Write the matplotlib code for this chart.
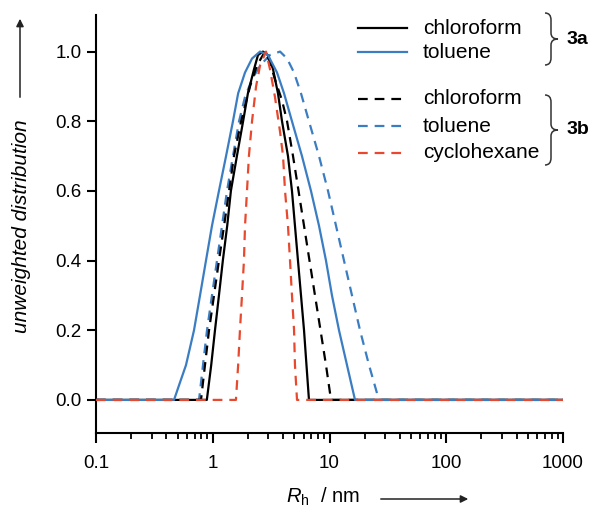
import matplotlib
matplotlib.use("Agg")
import matplotlib.pyplot as plt
from matplotlib.lines import Line2D
from matplotlib.patches import FancyArrowPatch, PathPatch
from matplotlib.path import Path
from matplotlib.ticker import FixedLocator, LogLocator, NullFormatter

plt.rcParams["font.family"] = ["Liberation Sans", "DejaVu Sans"]
plt.rcParams["mathtext.fontset"] = "custom"
plt.rcParams["mathtext.rm"] = "Liberation Sans"
plt.rcParams["mathtext.it"] = "Liberation Sans:italic"
plt.rcParams["lines.scale_dashes"] = False

# hydrodynamic radius R_h (nm) and unweighted distribution for each sample
rh_3a_chcl3 = [0.1, 0.89, 0.97, 1.045, 1.13, 1.22, 1.33, 1.43, 1.61, 1.82, 2.0, 2.26, 2.44, 2.69,
               2.97, 3.28, 3.62, 3.92, 4.41, 4.77, 5.06, 5.37, 5.70, 6.05, 6.35, 6.67, 1000]
dist_3a_chcl3 = [0, 0, 0.1, 0.2, 0.3, 0.4, 0.5, 0.6, 0.7, 0.8, 0.88, 0.95, 0.99, 1.0,
                 0.99, 0.95, 0.88, 0.8, 0.7, 0.6, 0.5, 0.4, 0.3, 0.2, 0.1, 0, 0]

rh_3a_tol = [0.1, 0.466, 0.524, 0.59, 0.691, 0.778, 0.875, 0.985, 1.13, 1.30, 1.49, 1.65, 1.89, 2.17, 2.54,
             2.97, 3.55, 4.08, 4.77, 5.81, 6.94, 8.13, 9.33, 10.5, 12.06, 14.12, 16.54, 1000]
dist_3a_tol = [0, 0, 0.05, 0.1, 0.2, 0.3, 0.4, 0.5, 0.6, 0.7, 0.8, 0.88, 0.94, 0.98, 1.0,
               0.99, 0.94, 0.88, 0.8, 0.7, 0.6, 0.5, 0.4, 0.3, 0.2, 0.1, 0, 0]

rh_3b_chcl3 = [0.1, 0.793, 0.858, 0.929, 1.025, 1.13, 1.25, 1.38, 1.52, 1.75, 2.085, 2.39, 2.80,
               3.09, 3.41, 3.92, 4.33, 4.87, 5.43, 6.05, 6.74, 7.51, 8.375, 9.33, 10.3, 1000]
dist_3b_chcl3 = [0, 0, 0.1, 0.2, 0.3, 0.4, 0.5, 0.6, 0.7, 0.8, 0.9, 0.96, 1.0,
                 0.97, 0.92, 0.86, 0.8, 0.7, 0.6, 0.5, 0.4, 0.3, 0.2, 0.1, 0, 0]

rh_3b_tol = [0.1, 0.763, 0.825, 0.893, 0.985, 1.087, 1.20, 1.325, 1.49, 1.68, 1.89, 2.17, 2.54, 3.09, 3.77,
             4.33, 4.965, 5.70, 6.67, 8.13, 9.71, 11.37, 13.31, 15.58, 18.25, 21.8, 26.5, 1000]
dist_3b_tol = [0, 0, 0.1, 0.2, 0.3, 0.4, 0.5, 0.6, 0.7, 0.8, 0.87, 0.92, 0.96, 0.99, 1.0,
               0.98, 0.94, 0.88, 0.8, 0.7, 0.6, 0.5, 0.4, 0.3, 0.2, 0.1, 0, 0]

rh_3b_chex = [0.1, 1.58, 1.65, 1.71, 1.78, 1.85, 1.89, 1.965, 2.04, 2.17, 2.35, 2.54, 2.86,
              3.09, 3.41, 3.77, 4.0, 4.16, 4.41, 4.59, 4.77, 4.97, 5.06, 5.27, 1000]
dist_3b_chex = [0, 0, 0.1, 0.2, 0.3, 0.4, 0.5, 0.6, 0.7, 0.8, 0.9, 0.96, 1.0,
                0.95, 0.87, 0.77, 0.7, 0.6, 0.5, 0.4, 0.3, 0.2, 0.1, 0, 0]

x_ticks = [0.1, 1, 10, 100, 1000]
x_ticklabels = ["0.1", "1", "10", "100", "1000"]
y_ticks = [0.0, 0.2, 0.4, 0.6, 0.8, 1.0]
y_ticklabels = ["0.0", "0.2", "0.4", "0.6", "0.8", "1.0"]
legend_labels = ["chloroform", "toluene", "chloroform", "toluene", "cyclohexane"]

BLUE = "#3b7dc2"
RED = "#e8492e"
DASH = (0, (7, 5))

W, H = 599, 512
fig = plt.figure(figsize=(W / 100, H / 100), dpi=100)
ax = fig.add_axes([96 / W, 79 / H, 467 / W, 418 / H])


def fpos(x, y):
    # pixel position (from top-left) -> figure fraction
    return x / W, 1 - y / H


lw = 1.6
ax.plot(rh_3b_tol, dist_3b_tol, color=BLUE, lw=lw, linestyle=DASH, zorder=2)
ax.plot(rh_3a_chcl3, dist_3a_chcl3, color="black", lw=lw, zorder=3)
ax.plot(rh_3b_chcl3, dist_3b_chcl3, color="black", lw=lw, linestyle=DASH, zorder=3)
ax.plot(rh_3a_tol, dist_3a_tol, color=BLUE, lw=lw, zorder=4)
ax.plot(rh_3b_chex, dist_3b_chex, color=RED, lw=lw, linestyle=DASH, zorder=5)

ax.set_xscale("log")
ax.set_xlim(0.1, 1000)
ax.set_ylim(-0.095, 1.105)
ax.xaxis.set_major_locator(FixedLocator(x_ticks))
ax.set_xticklabels(x_ticklabels)
ax.xaxis.set_minor_locator(LogLocator(base=10, subs=range(2, 10)))
ax.xaxis.set_minor_formatter(NullFormatter())
ax.set_yticks(y_ticks)
ax.set_yticklabels(y_ticklabels)

for side in ["top", "right"]:
    ax.spines[side].set_visible(False)
for side in ["left", "bottom"]:
    ax.spines[side].set_linewidth(1.5)
ax.tick_params(axis="x", which="major", length=7, width=1.5, pad=9, labelsize=13.5)
ax.tick_params(axis="x", which="minor", length=4, width=1.3)
ax.tick_params(axis="y", which="major", length=6.5, width=1.5, pad=4, labelsize=13.5)

# legend drawn by hand so the braces can group 3a / 3b
styles = [("black", "-"), (BLUE, "-"), ("black", DASH), (BLUE, DASH), (RED, DASH)]
rows = [28, 52, 99, 126, 153]
for (col, ls), y, label in zip(styles, rows, legend_labels):
    fig.add_artist(Line2D([358 / W, 407 / W], [1 - y / H] * 2, color=col, lw=lw,
                          linestyle=ls, transform=fig.transFigure))
    fig.text(*fpos(423, y), label, fontsize=15, ha="left", va="center")


def brace(ytop, ybot, x0=545, x1=551, tip=558):
    ymid = (ytop + ybot) / 2
    pts = [(x0, ytop), (x1, ytop), (x1, ytop + 7), (x1, ymid - 6), (x1, ymid), (tip, ymid),
           (x1, ymid), (x1, ymid + 6), (x1, ybot - 7), (x1, ybot), (x0, ybot)]
    codes = [Path.MOVETO, Path.CURVE3, Path.CURVE3, Path.LINETO, Path.CURVE3, Path.CURVE3,
             Path.CURVE3, Path.CURVE3, Path.LINETO, Path.CURVE3, Path.CURVE3]
    verts = [fpos(x, y) for x, y in pts]
    fig.add_artist(PathPatch(Path(verts, codes), facecolor="none", edgecolor="#333333",
                             lw=1.1, transform=fig.transFigure))
    return ymid


m = brace(13, 65)
fig.text(*fpos(567, m), "3a", fontsize=14, fontweight="bold", ha="left", va="center")
m = brace(95, 165)
fig.text(*fpos(567, m), "3b", fontsize=14, fontweight="bold", ha="left", va="center")

# axis titles with arrows
fig.text(*fpos(22, 226), "unweighted distribution", rotation=90, fontsize=15,
         style="italic", ha="center", va="center")
fig.add_artist(FancyArrowPatch(fpos(20, 100), fpos(20, 16), transform=fig.transFigure,
                               arrowstyle="-|>", mutation_scale=11, lw=1.1, color="#222222"))
fig.text(*fpos(323, 497), r"$\mathit{R}_\mathrm{h}$  / nm", fontsize=14.5,
         ha="center", va="center")
fig.add_artist(FancyArrowPatch(fpos(378, 499), fpos(471, 499), transform=fig.transFigure,
                               arrowstyle="-|>", mutation_scale=11, lw=1.1, color="#222222"))

fig.savefig("out.png", dpi=100)
